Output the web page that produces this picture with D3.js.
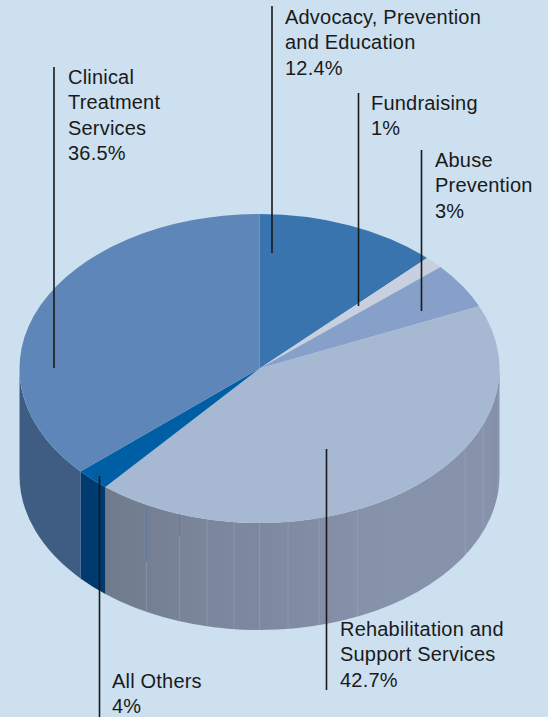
<!DOCTYPE html>
<html>
<head>
<meta charset="utf-8">
<script src="https://cdn.jsdelivr.net/npm/d3@7"></script>
<style>
html, body { margin: 0; padding: 0; background: #cce0ef; }
svg { display: block; }
text { font-family: "Liberation Sans", sans-serif; font-size: 20px; letter-spacing: 0.2px; fill: #1a1a1a; }
</style>
</head>
<body>
<div id="chart"></div>
<script>
// slices run clockwise from 12 o'clock
var categories = ["Advocacy, Prevention and Education", "Fundraising", "Abuse Prevention", "Rehabilitation and Support Services", "All Others", "Clinical Treatment Services"];
var printedLabels = ["12.4%", "1%", "3%", "42.7%", "4%", "36.5%"];
// shares as actually drawn in the picture, they differ a bit from the printed labels
var drawnShares = [12.3, 1.3, 4.8, 42.7, 2.3, 36.6];
var topColors = ["#3a74ae", "#c8cfde", "#87a0c9", "#a7b8d3", "#005ea5", "#5e86b8"];
var sideColors = ["#2c5a8a", "#9aa0ad", "#6a7d9d", "#8490a8", "#003a6e", "#3f5c83"];
// faint seams on the rehabilitation wall, in percent round the pie
var seamPercents = [26.75, 30.9, 33.6, 43.3, 46, 48.1, 50, 51.7, 53.5, 55.4, 57.8];
var darkSeamPercents = [55.4, 57.8];
var wallPercents = [25, 30, 43, 50, 55, 61.2];
var wallColors = ["#8390a8", "#8793ab", "#8692aa", "#7e889f", "#7a8499", "#6f7a8b"];

var width = 548,
    height = 717,
    cx = 259.5,
    cy = 368.5,
    rx = 240,
    ry = 154.5,
    depth = 107;

var callouts = [
    {x: 272, y0: 6, y1: 253, tx: 285, ty: 24, lines: ["Advocacy, Prevention", "and Education"]},
    {x: 358.5, y0: 93, y1: 306, tx: 371, ty: 110, lines: ["Fundraising"]},
    {x: 421.5, y0: 150, y1: 311, tx: 435, ty: 167, lines: ["Abuse", "Prevention"]},
    {x: 326.5, y0: 449, y1: 690, tx: 340, ty: 636, lines: ["Rehabilitation and", "Support Services"]},
    {x: 99.5, y0: 476, y1: 717, tx: 112, ty: 688, lines: ["All Others"]},
    {x: 54, y0: 67, y1: 368, tx: 68, ty: 84, lines: ["Clinical", "Treatment", "Services"]}
];

var pie = d3.pie().sort(null).value(function(d) { return d; });
var arcs = pie(drawnShares);

var arc = d3.arc().innerRadius(0).outerRadius(rx);

var percentToAngle = d3.scaleLinear().domain([0, 100]).range([0, 2 * Math.PI]);

function px(a) { return cx + rx * Math.sin(a); }
function py(a) { return cy - ry * Math.cos(a); }

function wallPath(a0, a1) {
    return "M" + px(a0) + "," + py(a0) +
        "A" + rx + "," + ry + " 0 0 1 " + px(a1) + "," + py(a1) +
        "L" + px(a1) + "," + (py(a1) + depth) +
        "A" + rx + "," + ry + " 0 0 0 " + px(a0) + "," + (py(a0) + depth) + "Z";
}

var svg = d3.select("#chart").append("svg")
    .attr("width", width)
    .attr("height", height);

svg.append("rect")
    .attr("width", width)
    .attr("height", height)
    .attr("fill", "#cce0ef");

// shading of the big wall runs left to right across the picture
var grad = svg.append("defs").append("linearGradient")
    .attr("id", "wallShade")
    .attr("gradientUnits", "userSpaceOnUse")
    .attr("x1", cx - rx)
    .attr("x2", cx + rx)
    .attr("y1", 0)
    .attr("y2", 0);

grad.selectAll("stop")
    .data(wallPercents.map(function(p, i) { return {p: p, c: wallColors[i]}; }).reverse())
    .enter().append("stop")
    .attr("offset", function(d) { return (px(percentToAngle(d.p)) - (cx - rx)) / (2 * rx); })
    .attr("stop-color", function(d) { return d.c; });

// walls, only the front half of the pie shows
var walls = svg.append("g");

arcs.forEach(function(d, i) {
    var a0 = Math.max(d.startAngle, Math.PI / 2),
        a1 = Math.min(d.endAngle, 3 * Math.PI / 2);
    if (a1 <= a0) return;
    walls.append("path")
        .attr("d", wallPath(a0, a1))
        .attr("fill", categories[i].indexOf("Rehabilitation") === 0 ? "url(#wallShade)" : sideColors[i]);
});

walls.selectAll("line.seam")
    .data(seamPercents)
    .enter().append("line")
    .attr("class", "seam")
    .attr("x1", function(d) { return px(percentToAngle(d)); })
    .attr("x2", function(d) { return px(percentToAngle(d)); })
    .attr("y1", function(d) { return py(percentToAngle(d)); })
    .attr("y2", function(d) { return py(percentToAngle(d)) + depth; })
    .attr("stroke", "#a3aec2")
    .attr("stroke-opacity", 0.4)
    .attr("stroke-width", 1);

// upper part of two seams is darker
walls.selectAll("line.dark")
    .data(darkSeamPercents)
    .enter().append("line")
    .attr("class", "dark")
    .attr("x1", function(d) { return px(percentToAngle(d)); })
    .attr("x2", function(d) { return px(percentToAngle(d)); })
    .attr("y1", function(d) { return py(percentToAngle(d)); })
    .attr("y2", function(d, i) { return py(percentToAngle(d)) + (i ? 57 : 22); })
    .attr("stroke", "#5f7a9c")
    .attr("stroke-width", 1);

// top face
svg.append("g")
    .attr("transform", "translate(" + cx + "," + cy + ") scale(1," + (ry / rx) + ")")
    .selectAll("path")
    .data(arcs)
    .enter().append("path")
    .attr("d", arc)
    .attr("fill", function(d, i) { return topColors[i]; });

// leader lines
svg.append("g")
    .selectAll("line")
    .data(callouts)
    .enter().append("line")
    .attr("x1", function(d) { return d.x; })
    .attr("x2", function(d) { return d.x; })
    .attr("y1", function(d) { return d.y0; })
    .attr("y2", function(d) { return d.y1; })
    .attr("stroke", "#1a1a1a")
    .attr("stroke-width", 1.6);

// labels, printed percent goes on the last line
var label = svg.append("g")
    .selectAll("text")
    .data(callouts)
    .enter().append("text")
    .attr("x", function(d) { return d.tx; })
    .attr("y", function(d) { return d.ty; });

label.selectAll("tspan")
    .data(function(d, i) { return d.lines.concat(printedLabels[i]).map(function(t) { return {t: t, x: d.tx}; }); })
    .enter().append("tspan")
    .attr("x", function(d) { return d.x; })
    .attr("dy", function(d, i) { return i ? 25.4 : 0; })
    .text(function(d) { return d.t; });
</script>
</body>
</html>
